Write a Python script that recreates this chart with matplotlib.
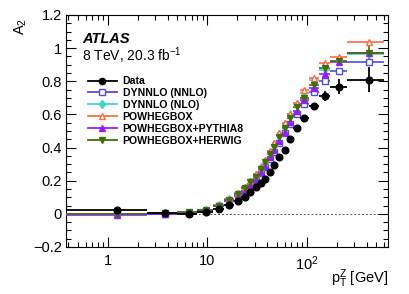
import numpy as np
import matplotlib.pyplot as plt
from matplotlib.lines import Line2D
from matplotlib.ticker import MultipleLocator, LogLocator, NullFormatter, FixedFormatter, FixedLocator

plt.rcParams["font.family"] = ["Liberation Sans", "DejaVu Sans"]
plt.rcParams["mathtext.fontset"] = "custom"
plt.rcParams["mathtext.rm"] = "Liberation Sans"
plt.rcParams["mathtext.it"] = "Liberation Sans:italic"

# pT(Z) bin edges [GeV]
bin_edges = [0, 2.5, 5.0, 8.0, 11.4, 14.9, 18.5, 22.0, 25.5, 29.0, 32.6, 36.4,
             40.4, 44.9, 50.2, 56.4, 63.9, 73.4, 85.4, 105.0, 132.0, 173.0, 253.0, 600.0]

data_a2 = [0.025, 0.004, -0.002, 0.011, 0.030, 0.054, 0.078, 0.104, 0.131, 0.159, 0.185, 0.211,
           0.253, 0.296, 0.342, 0.386, 0.450, 0.515, 0.581, 0.648, 0.712, 0.768, 0.810]
data_err = [0.008, 0.006, 0.006, 0.006, 0.006, 0.006, 0.006, 0.007, 0.007, 0.007, 0.008, 0.008,
            0.009, 0.010, 0.011, 0.012, 0.013, 0.015, 0.017, 0.020, 0.030, 0.045, 0.075]

nnlo_a2 = [0.000, 0.000, 0.006, 0.020, 0.045, 0.075, 0.105, 0.137, 0.170, 0.205, 0.245, 0.285,
           0.330, 0.375, 0.430, 0.485, 0.545, 0.605, 0.664, 0.738, 0.804, 0.865, 0.915]
nlo_a2 = [0.000, 0.002, 0.007, 0.024, 0.052, 0.087, 0.122, 0.158, 0.195, 0.235, 0.280, 0.320,
          0.375, 0.420, 0.480, 0.540, 0.600, 0.665, 0.730, 0.809, 0.869, 0.920, 0.965]
powheg_a2 = [0.000, 0.005, 0.008, 0.025, 0.054, 0.090, 0.127, 0.163, 0.200, 0.240, 0.285, 0.326,
             0.382, 0.430, 0.490, 0.547, 0.605, 0.670, 0.748, 0.817, 0.913, 0.947, 1.037]
pythia_a2 = [-0.010, 0.000, 0.006, 0.020, 0.045, 0.076, 0.108, 0.140, 0.175, 0.210, 0.250, 0.290,
             0.340, 0.385, 0.440, 0.495, 0.555, 0.620, 0.685, 0.760, 0.845, 0.918, 0.970]
herwig_a2 = [0.000, 0.004, 0.008, 0.022, 0.050, 0.083, 0.118, 0.153, 0.190, 0.225, 0.268, 0.310,
             0.360, 0.405, 0.465, 0.520, 0.580, 0.645, 0.700, 0.779, 0.879, 0.923, 0.970]
herwig_err = [0.004, 0.004, 0.004, 0.004, 0.004, 0.004, 0.005, 0.005, 0.005, 0.005, 0.006, 0.006,
              0.006, 0.007, 0.007, 0.008, 0.008, 0.009, 0.010, 0.012, 0.015, 0.020, 0.040]

labels = ["Data", "DYNNLO (NNLO)", "DYNNLO (NLO)", "POWHEGBOX",
          "POWHEGBOX+PYTHIA8", "POWHEGBOX+HERWIG"]

XMIN, XMAX = 0.38, 660

edges = np.array(bin_edges)
lo = np.maximum(edges[:-1], XMIN * 0.5)
hi = edges[1:]
centers = 0.5 * (edges[:-1] + edges[1:])
xerr = [centers - lo, hi - centers]

fig = plt.figure(figsize=(4.09, 2.94), dpi=100)
ax = fig.add_axes([0.161, 0.160, 0.788, 0.789])

ax.axhline(0, color="#555555", lw=0.7, ls=(0, (2, 2)), zorder=1)

c_nnlo, c_nlo, c_pow, c_py, c_hw = "#4f4fdc", "#3fd6cc", "#ff6a3d", "#9a1aff", "#3d6e10"
styles = [
    # values, yerr, color, marker, mfc, ms
    (nnlo_a2, None, c_nnlo, "s", "white", 4.5),
    (nlo_a2, None, c_nlo, "d", c_nlo, 3.8),
    (powheg_a2, None, c_pow, "^", "white", 4.8),
    (pythia_a2, None, c_py, "^", c_py, 4.8),
    (herwig_a2, herwig_err, c_hw, "v", c_hw, 4.8),
]
for vals, yerr, col, mk, mfc, ms in styles:
    ax.errorbar(centers, vals, xerr=xerr, yerr=yerr, fmt=mk, color=col, mfc=mfc,
                mec=col, mew=1.0, ms=ms, elinewidth=1.2, capsize=0, zorder=3)

ax.errorbar(centers, data_a2, xerr=xerr, yerr=data_err, fmt="o", color="black",
            ms=4.8, elinewidth=1.3, capsize=0, zorder=5)

ax.set_xscale("log")
ax.set_xlim(XMIN, XMAX)
ax.set_ylim(-0.2, 1.2)

ax.xaxis.set_major_locator(FixedLocator([1, 10, 100]))
ax.xaxis.set_major_formatter(FixedFormatter(["1", "10", "$10^{2}$"]))
ax.xaxis.set_minor_locator(LogLocator(base=10, subs=np.arange(2, 10), numticks=20))
ax.xaxis.set_minor_formatter(NullFormatter())
ax.yaxis.set_major_locator(MultipleLocator(0.2))
ax.yaxis.set_minor_locator(MultipleLocator(0.05))


def ytick_fmt(v, pos):
    if abs(v) < 1e-9:
        return "0"
    if abs(v - 1) < 1e-9:
        return "1"
    return ("%g" % v).replace("-", "\u2212")


ax.yaxis.set_major_formatter(plt.FuncFormatter(ytick_fmt))

ax.tick_params(which="both", direction="in", top=True, right=True, labelsize=10.5,
               width=0.8, colors="black")
ax.tick_params(axis="y", which="major", length=7, pad=3)
ax.tick_params(axis="y", which="minor", length=3.5)
ax.tick_params(axis="x", which="major", length=7, pad=5)
ax.tick_params(axis="x", which="minor", length=3.5)
for sp in ax.spines.values():
    sp.set_linewidth(0.8)

ax.set_ylabel("A$_2$", fontsize=10.5)
ax.yaxis.set_label_coords(-0.115, 0.95)
ax.set_xlabel("p$_\\mathrm{T}^\\mathrm{Z}$ [GeV]", fontsize=10.5, ha="right", va="top")
ax.xaxis.set_label_coords(1.0, -0.09)

ax.text(0.05, 0.895, "ATLAS", transform=ax.transAxes, fontsize=10.5,
        fontweight="bold", fontstyle="italic", va="center")
ax.text(0.05, 0.825, "8 TeV, 20.3 fb$^{-1}$", transform=ax.transAxes, fontsize=10,
        va="center")

colors = ["black", c_nnlo, c_nlo, c_pow, c_py, c_hw]
markers = ["o", "s", "d", "^", "^", "v"]
mfcs = ["black", "white", c_nlo, "white", c_py, c_hw]
handles = [Line2D([], [], color=c, marker=m, mfc=f, mec=c, lw=1.3, ms=4.5)
           for c, m, f in zip(colors, markers, mfcs)]
ax.legend(handles, labels, loc="upper left", bbox_to_anchor=(0.068, 0.736),
          frameon=False, prop={"weight": "bold", "size": 7.6}, handlelength=2.75,
          handletextpad=0.55, labelspacing=0.18, borderaxespad=0, borderpad=0)

fig.savefig("out.png", dpi=100)
